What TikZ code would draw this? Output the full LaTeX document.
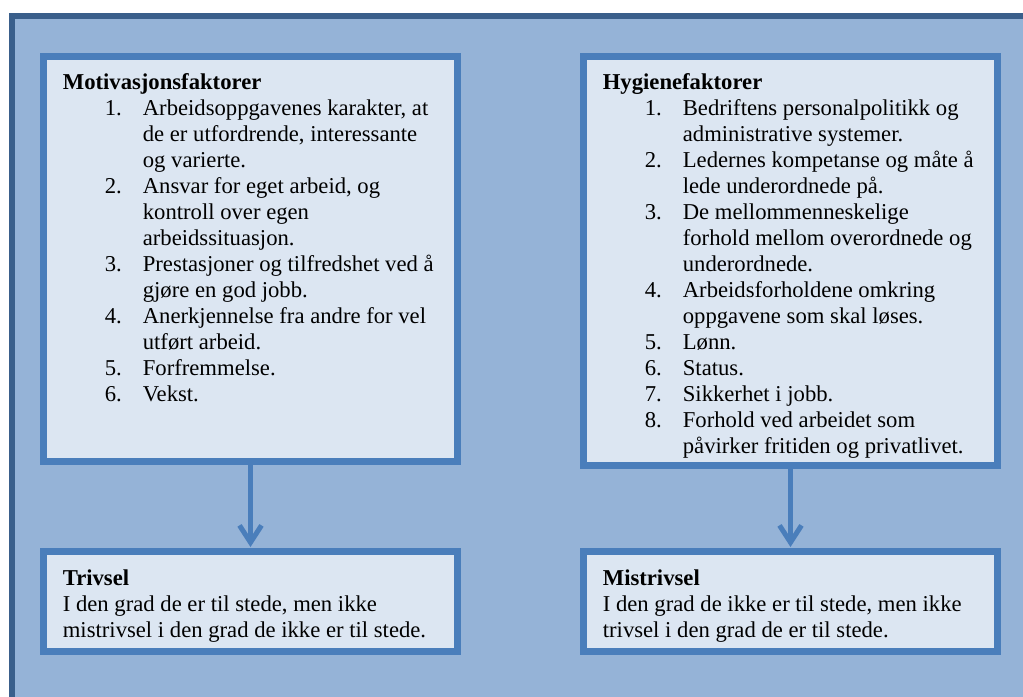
\documentclass[tikz,border=0pt]{standalone}
\usepackage{fontspec}
\setmainfont{Liberation Serif}
\usetikzlibrary{arrows.meta, calc, shadows}
\definecolor{panelfill}{HTML}{95B3D7}
\definecolor{paneldraw}{HTML}{3A5F8B}
\definecolor{boxfill}{HTML}{DCE6F2}
\definecolor{boxdraw}{HTML}{4A7EBB}
\tikzset{
    my-panel/.style={
        draw=paneldraw, fill=panelfill, line width=0.12cm
    },
    my-box/.style={
        rectangle, draw=boxdraw, fill=boxfill, line width=0.14cm, inner sep=0pt,
        minimum width=8.28cm,
        drop shadow={shadow xshift=0.03cm, shadow yshift=-0.04cm, opacity=0.3}
    },
    my-text/.style={
        anchor=north west, inner sep=0pt, font=\fontsize{12.9}{14.8}\selectfont
    },
    my-arrow/.style={
        draw=boxdraw, line width=0.1cm, shorten >=0.02cm,
        -{Straight Barb[width=0.44cm, length=0.34cm]}
    },
}

\begin{document}
\begin{tikzpicture}

        % PAGE AND BACKGROUND PANEL
        \useasboundingbox (0, 0) rectangle (20.46, -13.94);
        \clip (0, 0) rectangle (20.46, -13.94);
        \draw[my-panel] (0.24, -0.31) rectangle (21, -15);

        % BOXES
        \node[my-box, minimum height=8.1cm]  (MOTIV) at (5.01, -5.18)               {};
        \node[my-box, minimum height=8.18cm] (HYG)   at ($(MOTIV) + (10.8, -0.04)$) {};
        \node[my-box, minimum height=2cm]    (TRIV)  at (5.01, -12.03)              {};
        \node[my-box, minimum height=2cm]    (MIS)   at ($(TRIV) + (10.8, 0)$)      {};

        % TEXTS OF THE UPPER BOXES
        \node[my-text] (MOTIVTXT) at ($(MOTIV.north west) + (0.45, -0.35)$) {%
            \begin{tabular}{@{\hspace{0.84cm}}p{0.76cm}@{}l}
            \multicolumn{2}{@{}l}{\textbf{Motivasjonsfaktorer}}\\
            1. & Arbeidsoppgavenes karakter, at\\
               & de er utfordrende, interessante\\
               & og varierte.\\
            2. & Ansvar for eget arbeid, og\\
               & kontroll over egen\\
               & arbeidssituasjon.\\
            3. & Prestasjoner og tilfredshet ved å\\
               & gjøre en god jobb.\\
            4. & Anerkjennelse fra andre for vel\\
               & utført arbeid.\\
            5. & Forfremmelse.\\
            6. & Vekst.
            \end{tabular}};
        \node[my-text] (HYGTXT) at ($(HYG.north west) + (0.45, -0.35)$) {%
            \begin{tabular}{@{\hspace{0.84cm}}p{0.76cm}@{}l}
            \multicolumn{2}{@{}l}{\textbf{Hygienefaktorer}}\\
            1. & Bedriftens personalpolitikk og\\
               & administrative systemer.\\
            2. & Ledernes kompetanse og måte å\\
               & lede underordnede på.\\
            3. & De mellommenneskelige\\
               & forhold mellom overordnede og\\
               & underordnede.\\
            4. & Arbeidsforholdene omkring\\
               & oppgavene som skal løses.\\
            5. & Lønn.\\
            6. & Status.\\
            7. & Sikkerhet i jobb.\\
            8. & Forhold ved arbeidet som\\
               & påvirker fritiden og privatlivet.
            \end{tabular}};

        % TEXTS OF THE LOWER BOXES
        \node[my-text] (TRIVTXT) at ($(TRIV.north west) + (0.45, -0.37)$) {%
            \begin{tabular}{@{}l}
            \textbf{Trivsel}\\
            I den grad de er til stede, men ikke\\
            mistrivsel i den grad de ikke er til stede.
            \end{tabular}};
        \node[my-text] (MISTXT) at ($(MIS.north west) + (0.45, -0.37)$) {%
            \begin{tabular}{@{}l}
            \textbf{Mistrivsel}\\
            I den grad de ikke er til stede, men ikke\\
            trivsel i den grad de er til stede.
            \end{tabular}};

        % ARROWS
        \draw[my-arrow] (MOTIV.south) -- (TRIV.north);
        \draw[my-arrow] (HYG.south)   -- (MIS.north);

\end{tikzpicture}
\end{document}
